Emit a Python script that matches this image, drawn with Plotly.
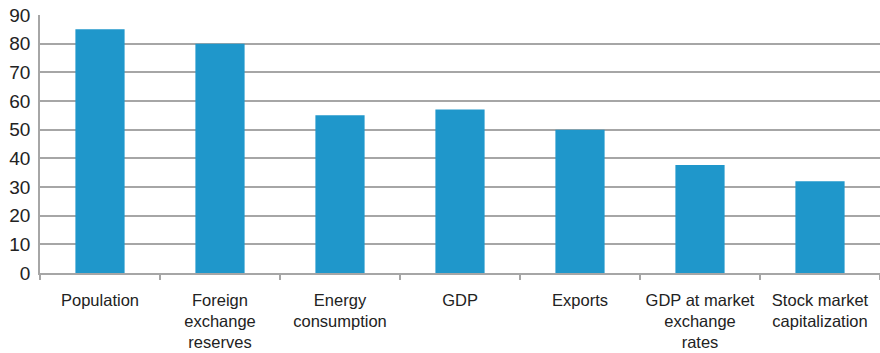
import plotly.graph_objects as go

categories = ["Population", "Foreign<br>exchange<br>reserves", "Energy<br>consumption", "GDP",
              "Exports", "GDP at market<br>exchange<br>rates", "Stock market<br>capitalization"]
values = [85, 80, 55, 57, 50, 37.7, 32]
y_ticks = [0, 10, 20, 30, 40, 50, 60, 70, 80, 90]

fig = go.Figure(go.Bar(x=categories, y=values, marker=dict(color="#1F97CB", line=dict(width=0)),
                       width=0.41))

fig.update_layout(
    width=880, height=353,
    margin=dict(l=40, r=0, t=15, b=80),
    plot_bgcolor="white", paper_bgcolor="white",
    showlegend=False,
    font=dict(family="Liberation Sans, Arial, sans-serif", color="#222222"),
)
fig.update_xaxes(
    tickson="boundaries", ticks="outside", ticklen=5, tickcolor="#a6a6a6", tickwidth=1.5,
    showline=True, linecolor="#a6a6a6", linewidth=1.5,
    tickfont=dict(size=16.5, color="#222222"), ticklabelstandoff=11,
    showgrid=False,
)
fig.update_yaxes(
    range=[0, 90], tickvals=y_ticks, showgrid=True, gridcolor="#a6a6a6", gridwidth=1.5,
    showline=True, linecolor="#a6a6a6", linewidth=1.5, ticks="", zeroline=False,
    tickfont=dict(size=19, color="#222222"), ticklabelstandoff=4,
)
fig.write_html("out.html")
